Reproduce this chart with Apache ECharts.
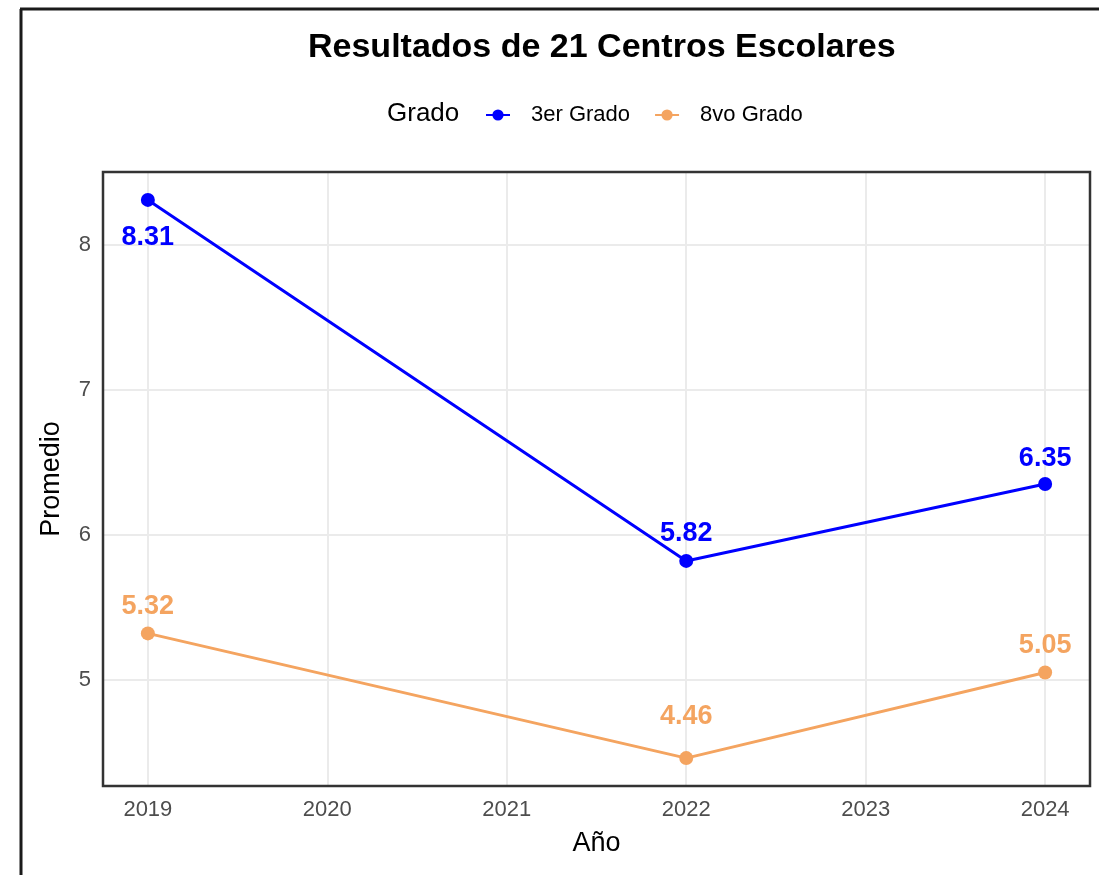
<!DOCTYPE html>
<html>
<head>
<meta charset="utf-8">
<script src="https://cdn.jsdelivr.net/npm/echarts@6/dist/echarts.min.js"></script>
<style>html,body{margin:0;padding:0;background:#fff}#c{width:1099px;height:875px}</style>
</head>
<body>
<div id="c"></div>
<script>
const years = [2019, 2022, 2024];
const tercerGrado = [8.31, 5.82, 6.35];
const octavoGrado = [5.32, 4.46, 5.05];
const seriesNames = ['3er Grado', '8vo Grado'];
const xTicks = [2019, 2020, 2021, 2022, 2023, 2024];
const yTicks = [5, 6, 7, 8];

// label offsets (styling only)
const tercerOffsets = [[0, 38], [0, -27], [0, -26]];
const octavoOffsets = [[0, -27], [0, -42], [0, -27]];

const FONT = 'Liberation Sans, Arial, sans-serif';
const GRID = { left: 103, right: 9, top: 172, bottom: 89 };

function build(vals, offs) {
  return years.map((y, i) => ({
    value: [y, vals[i]],
    label: { offset: offs[i] }
  }));
}

const chart = echarts.init(document.getElementById('c'), null, { renderer: 'canvas' });
const labelBase = (color) => ({
  show: true, position: 'inside', color: color, fontSize: 27, fontWeight: 'bold',
  fontFamily: FONT, formatter: (p) => p.value[1].toFixed(2)
});

chart.setOption({
  backgroundColor: '#fff',
  animation: false,
  title: {
    text: 'Resultados de 21 Centros Escolares',
    left: 303, top: 26,
    textStyle: { fontSize: 34, fontWeight: 'bold', color: '#000', fontFamily: FONT }
  },
  graphic: [
    { type: 'line', shape: { x1: 21, y1: 9, x2: 21, y2: 875 }, style: { stroke: '#1a1a1a', lineWidth: 3 } },
    { type: 'line', shape: { x1: 20, y1: 9, x2: 1099, y2: 9 }, style: { stroke: '#1a1a1a', lineWidth: 3 } },
    { type: 'text', left: 387, top: 101, style: { text: 'Grado', fontSize: 26, fill: '#000', fontFamily: FONT } },
    { type: 'rect', z: 100, shape: { x: GRID.left, y: GRID.top, width: 1099 - GRID.left - GRID.right, height: 875 - GRID.top - GRID.bottom },
      style: { fill: 'none', stroke: '#333', lineWidth: 2.5 } }
  ],
  legend: {
    left: 480, top: 99, itemWidth: 24, itemHeight: 14, itemGap: 24,
    data: seriesNames,
    textStyle: { fontSize: 22, color: '#000', fontFamily: FONT, padding: [0, 0, 0, 16] }
  },
  grid: GRID,
  xAxis: {
    type: 'value', min: 2018.75, max: 2024.25,
    name: 'Año', nameLocation: 'middle', nameGap: 44,
    nameTextStyle: { fontSize: 27, color: '#000', fontFamily: FONT },
    axisLine: { show: false }, axisTick: { show: false },
    axisLabel: { fontSize: 22, color: '#4d4d4d', fontFamily: FONT, margin: 13, showMinLabel: false, showMaxLabel: false,
      formatter: (v) => xTicks.includes(v) ? String(v) : '' },
    splitLine: { show: true, lineStyle: { color: '#ebebeb', width: 2 } }
  },
  yAxis: {
    type: 'value', min: 4.2675, max: 8.5025,
    name: 'Promedio', nameLocation: 'middle', nameGap: 38, nameRotate: 90,
    nameTextStyle: { fontSize: 27, color: '#000', fontFamily: FONT },
    axisLine: { show: false }, axisTick: { show: false },
    axisLabel: { fontSize: 22, color: '#4d4d4d', fontFamily: FONT, margin: 12, showMinLabel: false, showMaxLabel: false,
      formatter: (v) => yTicks.includes(v) ? String(v) : '' },
    splitLine: { show: true, lineStyle: { color: '#ebebeb', width: 2 } }
  },
  series: [
    {
      name: seriesNames[0], type: 'line', data: build(tercerGrado, tercerOffsets),
      symbol: 'circle', symbolSize: 14,
      lineStyle: { color: '#0000ff', width: 3 }, itemStyle: { color: '#0000ff' },
      label: labelBase('#0000ff'), z: 3
    },
    {
      name: seriesNames[1], type: 'line', data: build(octavoGrado, octavoOffsets),
      symbol: 'circle', symbolSize: 14,
      lineStyle: { color: '#f4a460', width: 3 }, itemStyle: { color: '#f4a460' },
      label: labelBase('#f4a460'), z: 3
    }
  ]
});
</script>
</body>
</html>
